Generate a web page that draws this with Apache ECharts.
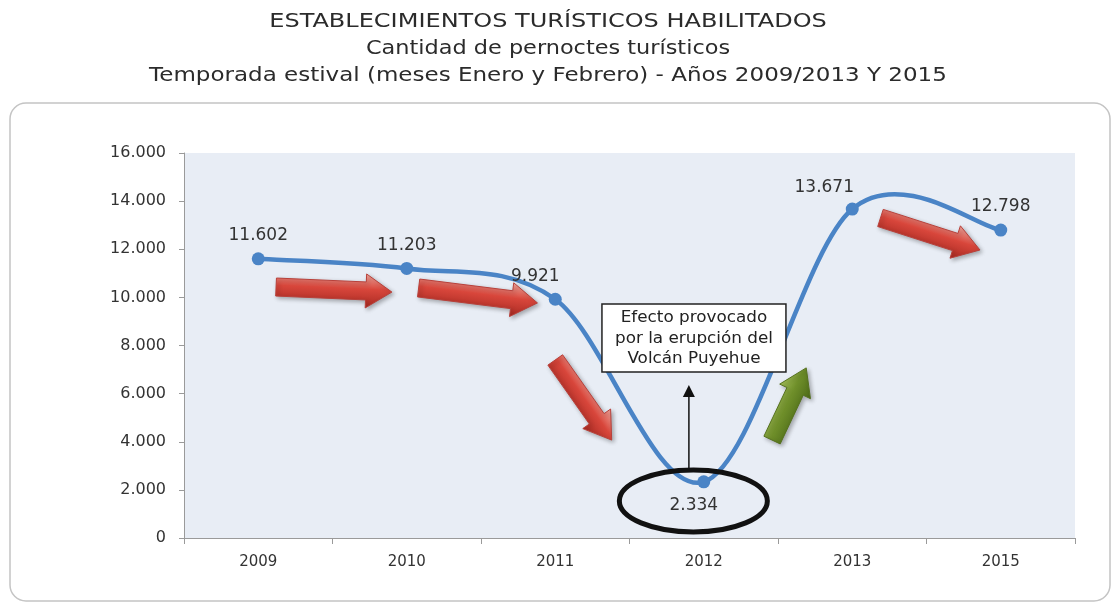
<!DOCTYPE html>
<html>
<head>
<meta charset="utf-8">
<script src="https://cdn.jsdelivr.net/npm/echarts@6/dist/echarts.min.js"></script>
<style>
  html, body { margin: 0; padding: 0; background: #ffffff; }
  #chart { width: 1115px; height: 606px; }
</style>
</head>
<body>
<div id="chart"></div>
<script>
// Temporadas (categorías del eje X) y pernoctes registrados
const years = ['2009', '2010', '2011', '2012', '2013', '2015'];
const pernoctes = [11602, 11203, 9921, 2334, 13671, 12798];
const yAxisMin = 0;
const yAxisMax = 16000;
const yAxisStep = 2000;

const titleLines = [
  'ESTABLECIMIENTOS TURÍSTICOS HABILITADOS',
  'Cantidad de pernoctes turísticos',
  'Temporada estival (meses Enero y Febrero) - Años 2009/2013 Y 2015'
];
const noteLines = ['Efecto provocado', 'por la erupción del', 'Volcán Puyehue'];

const FONT = '"DejaVu Sans", Verdana, sans-serif';
const LINE_COLOR = '#4a84c6';

// Miles con punto como separador
function fmt(v) {
  return String(v).replace(/\B(?=(\d{3})+(?!\d))/g, '.');
}

// Desplazamiento de algunas etiquetas de valor
const labelOffsets = { 2: [-20, 0], 4: [-28, 2] };

const seriesData = pernoctes.map((v, i) => {
  const item = { value: v };
  if (i === 3) {
    item.label = { position: 'bottom', distance: 9, offset: [-10, 0] };
  } else if (labelOffsets[i]) {
    item.label = { offset: labelOffsets[i] };
  }
  return item;
});

// Curva suavizada tipo Catmull-Rom: un tramo Bézier por par de puntos consecutivos
function renderCurve(params, api) {
  const i = params.dataIndex;
  const n = pernoctes.length;
  if (i >= n - 1) return null;
  const P = k => api.coord([Math.max(0, Math.min(n - 1, k)), pernoctes[Math.max(0, Math.min(n - 1, k))]]);
  const p0 = P(i - 1), p1 = P(i), p2 = P(i + 1), p3 = P(i + 2);
  const t = 1 / 6;
  return {
    type: 'bezierCurve',
    shape: {
      x1: p1[0], y1: p1[1],
      x2: p2[0], y2: p2[1],
      cpx1: p1[0] + (p2[0] - p0[0]) * t, cpy1: p1[1] + (p2[1] - p0[1]) * t,
      cpx2: p2[0] - (p3[0] - p1[0]) * t, cpy2: p2[1] - (p3[1] - p1[1]) * t
    },
    style: { fill: null, stroke: LINE_COLOR, lineWidth: 4.5, lineCap: 'round' }
  };
}

const chart = echarts.init(document.getElementById('chart'), null, { renderer: 'canvas' });

chart.setOption({
  animation: false,
  backgroundColor: '#ffffff',
  grid: {
    left: 184,
    right: 40,
    top: 153,
    bottom: 68,
    show: true,
    backgroundColor: '#e8edf5',
    borderWidth: 0
  },
  xAxis: {
    type: 'category',
    data: years,
    boundaryGap: true,
    axisLine: { lineStyle: { color: '#9a9a9a', width: 1 } },
    axisTick: { show: true, interval: 0, length: 6, lineStyle: { color: '#9a9a9a' } },
    axisLabel: { fontFamily: FONT, fontSize: 15, color: '#333', margin: 17 },
    splitLine: { show: false }
  },
  yAxis: {
    type: 'value',
    min: yAxisMin,
    max: yAxisMax,
    interval: yAxisStep,
    axisLine: { show: true, lineStyle: { color: '#9a9a9a', width: 1 } },
    axisTick: { show: true, length: 5, lineStyle: { color: '#9a9a9a' } },
    axisLabel: { fontFamily: FONT, fontSize: 16, color: '#333', margin: 18, formatter: fmt },
    splitLine: { show: false }
  },
  series: [
    {
      type: 'custom',
      renderItem: renderCurve,
      data: pernoctes.map((v, i) => [i, v]),
      encode: { x: 0, y: 1 },
      z: 2,
      silent: true
    },
    {
      type: 'line',
      data: seriesData,
      symbol: 'circle',
      symbolSize: 13,
      lineStyle: { opacity: 0 },
      itemStyle: { color: LINE_COLOR },
      label: {
        show: true,
        position: 'top',
        distance: 8,
        fontFamily: FONT,
        fontSize: 17,
        color: '#333',
        formatter: p => fmt(p.value)
      },
      z: 3
    }
  ]
});

// ---- Anotaciones: flechas, recuadro y elipse, ubicadas en coordenadas de datos ----
const redArrows = [
  { from: [0.12, 10430], to: [0.90, 10220] },
  { from: [1.08, 10390], to: [1.88, 9770] },
  { from: [2.00, 7400], to: [2.38, 4070] },
  { from: [4.19, 13300], to: [4.86, 11970] }
];
const greenArrows = [
  { from: [3.46, 4070], to: [3.69, 7070] }
];
const notePos = [2.934, 8310];
const pointerFrom = [2.90, 2740];
const pointerTo = [2.90, 6360];
const ellipsePos = [2.93, 1540];

function toPx(ix, v) {
  const a = chart.convertToPixel({ gridIndex: 0 }, [0, v]);
  const b = chart.convertToPixel({ gridIndex: 0 }, [1, v]);
  return [a[0] + ix * (b[0] - a[0]), a[1]];
}

function arrowShape(p0, p1, shaftW, headW, headL, colors) {
  const dx = p1[0] - p0[0], dy = p1[1] - p0[1];
  const L = Math.hypot(dx, dy);
  const ux = dx / L, uy = dy / L;
  const nx = -uy, ny = ux;
  const local = [
    [0, -shaftW / 2], [L - headL, -shaftW / 2], [L - headL, -headW / 2],
    [L, 0], [L - headL, headW / 2], [L - headL, shaftW / 2], [0, shaftW / 2]
  ];
  const pts = local.map(([a, b]) => [p0[0] + ux * a + nx * b, p0[1] + uy * a + ny * b]);
  // sombreado transversal para dar volumen
  let gA = [p0[0] - nx * headW / 2, p0[1] - ny * headW / 2];
  let gB = [p0[0] + nx * headW / 2, p0[1] + ny * headW / 2];
  if (gA[1] > gB[1]) { const t = gA; gA = gB; gB = t; }
  return {
    type: 'polygon',
    shape: { points: pts },
    style: {
      fill: new echarts.graphic.LinearGradient(gA[0], gA[1], gB[0], gB[1], [
        { offset: 0, color: colors[0] },
        { offset: 0.45, color: colors[1] },
        { offset: 1, color: colors[2] }
      ], true),
      stroke: colors[3],
      lineWidth: 1,
      shadowBlur: 4,
      shadowOffsetX: 2,
      shadowOffsetY: 2,
      shadowColor: 'rgba(0,0,0,0.3)'
    },
    z: 10
  };
}

function drawAnnotations() {
  const g = [];
  // marco redondeado exterior
  g.push({
    type: 'rect',
    shape: { x: 10, y: 103, width: 1100, height: 498, r: 16 },
    style: { fill: 'none', stroke: '#c4c4c4', lineWidth: 1.5 },
    z: 0, silent: true
  });

  // título en tres líneas, algo ensanchado
  const titleScale = [1.2, 1.12, 1.15];
  titleLines.forEach((line, k) => {
    g.push({
      type: 'text',
      x: 548, y: 22 + k * 27,
      scaleX: titleScale[k],
      style: {
        text: line, fontFamily: FONT, fontSize: 20,
        fill: '#2b2b2b', align: 'center', verticalAlign: 'middle'
      },
      z: 5
    });
  });

  redArrows.forEach(a => {
    g.push(arrowShape(toPx(...a.from), toPx(...a.to), 18, 34, 26,
      ['#f2a69c', '#d8463b', '#a82a22', '#b8403a']));
  });
  greenArrows.forEach(a => {
    g.push(arrowShape(toPx(...a.from), toPx(...a.to), 18, 34, 26,
      ['#a6c35a', '#6f8f2a', '#4c6a18', '#56721f']));
  });

  // recuadro explicativo
  const c = toPx(...notePos);
  const bw = 184, bh = 68;
  g.push({
    type: 'rect',
    shape: { x: c[0] - bw / 2, y: c[1] - bh / 2, width: bw, height: bh },
    style: { fill: '#ffffff', stroke: '#222', lineWidth: 1.5 },
    z: 11
  });
  g.push({
    type: 'text',
    x: c[0], y: c[1] + 1,
    scaleX: 1.12,
    style: {
      text: noteLines.join('\n'),
      fontFamily: FONT, fontSize: 15, lineHeight: 20.5,
      fill: '#222', align: 'center', verticalAlign: 'middle'
    },
    z: 12
  });

  // flecha negra que apunta al recuadro
  const pf = toPx(...pointerFrom), pt = toPx(...pointerTo);
  g.push({
    type: 'line',
    shape: { x1: pf[0], y1: pf[1], x2: pt[0], y2: pt[1] + 8 },
    style: { stroke: '#111', lineWidth: 1.5 },
    z: 12
  });
  g.push({
    type: 'polygon',
    shape: { points: [[pt[0], pt[1]], [pt[0] - 6, pt[1] + 12], [pt[0] + 6, pt[1] + 12]] },
    style: { fill: '#111' },
    z: 12
  });

  // elipse alrededor del valor mínimo
  const e = toPx(...ellipsePos);
  g.push({
    type: 'ellipse',
    shape: { cx: e[0], cy: e[1], rx: 74, ry: 31 },
    style: { fill: 'none', stroke: '#111', lineWidth: 5 },
    z: 12
  });

  chart.setOption({ graphic: g });
}

drawAnnotations();
</script>
</body>
</html>
